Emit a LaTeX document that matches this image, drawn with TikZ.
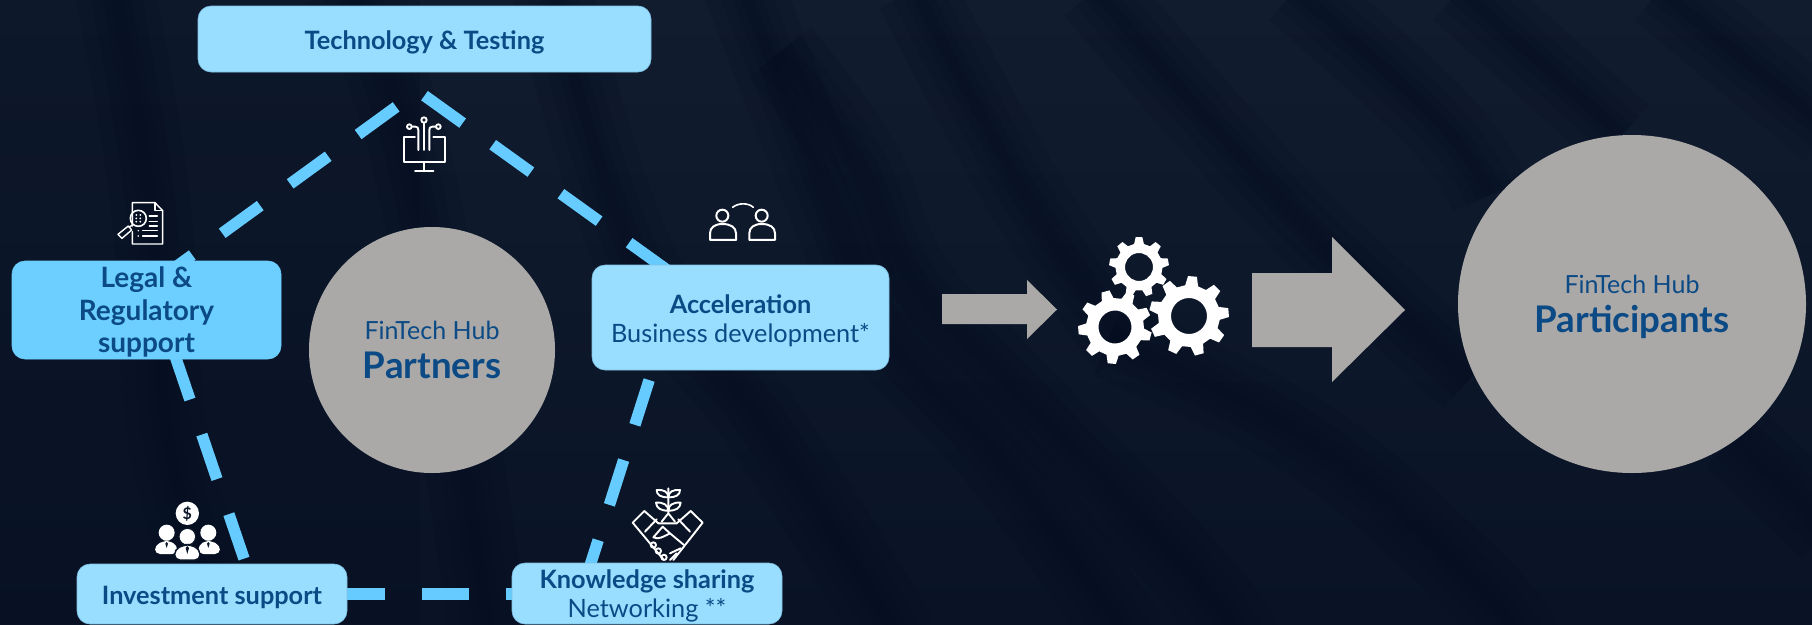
\documentclass[tikz,border=0pt]{standalone}
\usepackage{fontspec}
\setmainfont{Lato}
\usetikzlibrary{shapes.geometric}
\definecolor{bgtop}{HTML}{111C2F}
\definecolor{bgbot}{HTML}{091325}
\definecolor{bgbase}{HTML}{0B1628}
\definecolor{bgdark}{HTML}{030C1E}
\definecolor{boxlite}{HTML}{99DDFF}
\definecolor{boxmid}{HTML}{6CCFFF}
\definecolor{boxedge}{HTML}{7FBFE0}
\definecolor{inktext}{HTML}{0B4A85}
\definecolor{blobgray}{HTML}{AAA9A7}
\definecolor{dashblue}{HTML}{66CCFF}
\newcommand{\mycrease}[1]{\foreach \w in {80,50,28,12}{\draw[bgdark,opacity=.14,line width=\w pt] plot[smooth,tension=.7] coordinates {#1};}}
\newcommand{\mygear}[6]{% x,y,teeth,R,r,rotation
  \begin{scope}[shift={(#1,#2)},rotate=#6]
    \pgfmathsetmacro{\gs}{360/#3}
    \pgfmathtruncatemacro{\gn}{#3-1}
    \fill[white,even odd rule] ({-0.30*\gs}:#5)
      \foreach \i in {0,...,\gn}{
        -- ({(\i-0.30)*\gs}:#5) -- ({(\i-0.16)*\gs}:#4) -- ({(\i+0.16)*\gs}:#4) -- ({(\i+0.30)*\gs}:#5)
      } -- cycle (0,0) circle (\gholeR);
  \end{scope}}
\tikzset{
  dashline/.style={draw=dashblue,line width=11.5pt},
  panel/.style={rectangle,rounded corners=13pt,fill=boxlite,draw=boxedge,line width=.6pt,inner sep=0pt},
  paneltext/.style={text=inktext,align=center,inner sep=0pt,font=\fontsize{25.3}{29}\selectfont},
  blob/.style={ellipse,fill=blobgray,inner sep=0pt},
  hubtext/.style={text=inktext,font=\fontsize{25}{28}\selectfont,inner sep=0pt},
  hubbold/.style={text=inktext,font=\fontsize{36.7}{40}\selectfont\bfseries,inner sep=0pt},
  bigarrow/.style={fill=blobgray},
  icon/.style={draw=white,line width=1.9pt,line cap=round,line join=round},
}
\begin{document}
\begin{tikzpicture}[x=1pt,y=-1pt]
\useasboundingbox (0,0) rectangle (1812,624);
% background
\begin{scope}
\clip (0,0) rectangle (1812,624);
\shade[top color=bgtop,bottom color=bgbot] (0,0) rectangle (1812,624);
\fill[bgdark,opacity=.22] (0,0) rectangle (420,624);
\mycrease{(113,-20) (150,200) (170,450) (230,640)}
\mycrease{(341,-20) (385,70) (430,250) (490,640)}
\mycrease{(549,-20) (636,260) (760,420) (900,640)}
\mycrease{(740,-20) (838,230) (880,330) (1000,460) (1130,640)}
\mycrease{(780,52) (859,160) (912,279) (1004,378) (1188,570) (1240,640)}
\mycrease{(915,-10) (977,108) (1043,223) (1130,350)}
\mycrease{(1109,339) (1306,438) (1470,578) (1520,640)}
\mycrease{(1095,-10) (1208,120) (1319,239) (1470,378)}
\mycrease{(1295,-10) (1438,120) (1490,195)}
\mycrease{(1460,-10) (1622,135)}
\mycrease{(1660,-10) (1830,130)}
\mycrease{(1734,438) (1830,530)}
\end{scope}
% pentagon vertices (hidden behind the boxes)
\coordinate (vtop) at (418,91);
\coordinate (vright) at (681,280);
\coordinate (vknow) at (581,594);
\coordinate (vinv) at (256,594);
\coordinate (vleft) at (151,285);
\draw[dashline,dash pattern=on 47pt off 37pt,dash phase=57pt] (vtop) -- (vleft);
\draw[dashline,dash pattern=on 47pt off 37pt,dash phase=76pt] (vtop) -- (vright);
\draw[dashline,dash pattern=on 47pt off 37pt,dash phase=63pt] (vright) -- (vknow);
\draw[dashline,dash pattern=on 47pt off 37pt,dash phase=2pt] (vinv) -- (vknow);
\draw[dashline,dash pattern=on 47pt off 37pt,dash phase=10pt] (vleft) -- (vinv);
% boxes
\node[panel,minimum width=453pt,minimum height=66pt] (tech) at (424.5,39) {};
\node[paneltext] (techtext) at (424.5,42) {\bfseries Technology \& Testing};
\node[panel,fill=boxmid,draw=boxmid,minimum width=269pt,minimum height=98pt] (legal) at (146.5,310) {};
\node[paneltext,font=\fontsize{28}{32.5}\selectfont] (legaltext) at (146.5,312) {\bfseries Legal \&\\\bfseries Regulatory\\\bfseries support};
\node[panel,minimum width=297pt,minimum height=105pt] (accel) at (740.5,317.5) {};
\node[paneltext] (acceltext) at (740.5,320.5) {\bfseries Acceleration\\Business development*};
\node[panel,minimum width=270pt,minimum height=60pt] (invest) at (212,594) {};
\node[paneltext] (investtext) at (212,597) {\bfseries Investment support};
\node[panel,minimum width=270pt,minimum height=61pt] (know) at (647,593.5) {};
\node[paneltext] (knowtext) at (647,596) {\bfseries Knowledge sharing\\Networking **};
% hubs
\node[blob,minimum width=246pt,minimum height=246pt] (partners) at (432,350) {};
\node[hubtext] (ptop) at (432,330) {FinTech Hub};
\node[hubbold] (pbot) at (432,365) {Partners};
\node[blob,minimum width=348pt,minimum height=338pt] (parts) at (1632,304) {};
\node[hubtext] (qtop) at (1632,284) {FinTech Hub};
\node[hubbold] (qbot) at (1632,321.5) {Participants};
% arrows
\fill[bigarrow] (942,294) -- (1027,294) -- (1027,280) -- (1057,309.5) -- (1027,339) -- (1027,324) -- (942,324) -- cycle;
\fill[bigarrow] (1252,273) -- (1332,273) -- (1332,237) -- (1405,310) -- (1332,382) -- (1332,347) -- (1252,347) -- cycle;
% gears
\def\gholeR{14}\mygear{1139}{267}{9}{30}{23.5}{10}
\def\gholeR{16.5}\mygear{1115}{327}{9}{37}{29}{25}
\def\gholeR{18}\mygear{1189}{316}{9}{40}{31}{5}
% tech icon
\begin{scope}[shift={(380,100)},x=.3333pt,y=-.3333pt]
\draw[icon] (105,110) -- (72,110) -- (72,187) -- (195,187) -- (195,110) -- (160,110);
\draw[icon] (132,187) -- (132,213) (105,213) -- (160,213);
\draw[icon] (132,60) circle (8) (132,68) -- (132,150);
\draw[icon] (88,80) circle (7) (95,80) -- (106,80) .. controls (113,80) and (115,84) .. (115,90) -- (115,150);
\draw[icon] (175,80) circle (7) (168,80) -- (157,80) .. controls (150,80) and (148,84) .. (148,90) -- (148,150);
\end{scope}
% document icon
\begin{scope}[shift={(100,190)},x=.3333pt,y=-.3333pt]
\draw[icon,line width=1.4pt] (97,108) -- (97,38) -- (165,38) -- (188,62) -- (188,162) -- (97,162) -- (97,125);
\draw[icon,line width=1.2pt] (165,38) -- (165,62) -- (188,62);
\draw[icon,line width=1.4pt] (148,78) -- (172,78) (148,95) -- (172,95) (148,108) -- (172,108) (128,122) -- (172,122) (128,138) -- (172,138);
\fill[white] (115,122) circle (2.5) (115,138) circle (2.5);
\draw[icon,line width=1.6pt] (115,85) circle (24);
\foreach \dx in {-6,6}\foreach \dy in {-10,0,10}\fill[white] (115+\dx,85+\dy) circle (3);
\draw[icon,line width=1.4pt] (97,105) -- (87,112) (85,108) -- (95,120) -- (66,145) -- (54,133) -- cycle;
\end{scope}
% people icon
\begin{scope}[shift={(690,190)},x=.3333pt,y=-.3333pt]
\draw[icon,line width=2pt] (97,77) circle (18) (215,77) circle (18);
\draw[icon,line width=2pt] (60,150) -- (60,130) .. controls (60,112) and (75,102) .. (97,102) .. controls (122,102) and (138,112) .. (138,130) -- (138,150) -- cycle;
\draw[icon,line width=2pt] (178,150) -- (178,130) .. controls (178,112) and (193,102) .. (215,102) .. controls (240,102) and (255,112) .. (255,130) -- (255,150) -- cycle;
\draw[icon,line width=1.6pt] (128,52) .. controls (145,38) and (175,38) .. (190,52);
\end{scope}
% investment icon
\begin{scope}[shift={(140,490)},x=.3333pt,y=-.3333pt]
\fill[white] (142,70) circle (35);
\node[text=bgbase,inner sep=0pt,font=\fontsize{16}{16}\selectfont\bfseries] (dollar) at (142,70) {\$};
\fill[white] (80,128) circle (24) (205,128) circle (24);
\fill[white,rounded corners=5pt] (45,192) -- (45,165) -- (75,152) -- (85,152) -- (112,165) -- (112,192) -- cycle;
\fill[white,rounded corners=5pt] (175,192) -- (175,165) -- (200,152) -- (210,152) -- (240,165) -- (240,192) -- cycle;
\fill[bgbase] (142,140) circle (28);
\fill[white] (142,140) circle (23);
\draw[bgbase,line width=1.5pt,fill=white,rounded corners=5pt] (104,210) -- (104,178) -- (135,164) -- (150,164) -- (180,178) -- (180,210) -- cycle;
\fill[bgbase] (142,168) -- (137,174) -- (142,192) -- (147,174) -- cycle (80,156) -- (76,161) -- (80,174) -- (84,161) -- cycle (205,156) -- (201,161) -- (205,174) -- (209,161) -- cycle;
\end{scope}
% handshake icon
\begin{scope}[shift={(620,480)},x=.3333pt,y=-.3333pt]
\draw[icon] (145,25) -- (145,100) (145,100) -- (125,125) (145,100) -- (165,125);
\draw[icon] (145,52) .. controls (122,52) and (110,45) .. (110,30) .. controls (130,28) and (145,35) .. (145,52) .. controls (145,35) and (160,28) .. (180,30) .. controls (180,45) and (168,52) .. (145,52);
\draw[icon] (145,92) .. controls (122,92) and (110,85) .. (108,68) .. controls (130,66) and (145,75) .. (145,92) .. controls (145,75) and (160,66) .. (182,68) .. controls (180,85) and (168,92) .. (145,92);
\draw[icon] (73,93) -- (38,128) -- (130,238) (212,93) -- (248,128) -- (160,240);
\draw[icon] (73,93) -- (115,130) -- (170,130) -- (212,93);
\draw[icon] (110,118) -- (75,155) (175,118) -- (210,155);
\draw[icon] (100,172) -- (128,140) -- (150,160) -- (192,195) (100,172) .. controls (115,180) and (130,170) .. (150,160);
\draw[icon] (100,195) circle (8) (115,213) circle (8) (132,232) circle (8);
\draw[icon] (150,240) -- (170,220) (150,220) -- (182,205);
\fill[white] (78,150) circle (3) (207,150) circle (3);
\end{scope}
\end{tikzpicture}
\end{document}
